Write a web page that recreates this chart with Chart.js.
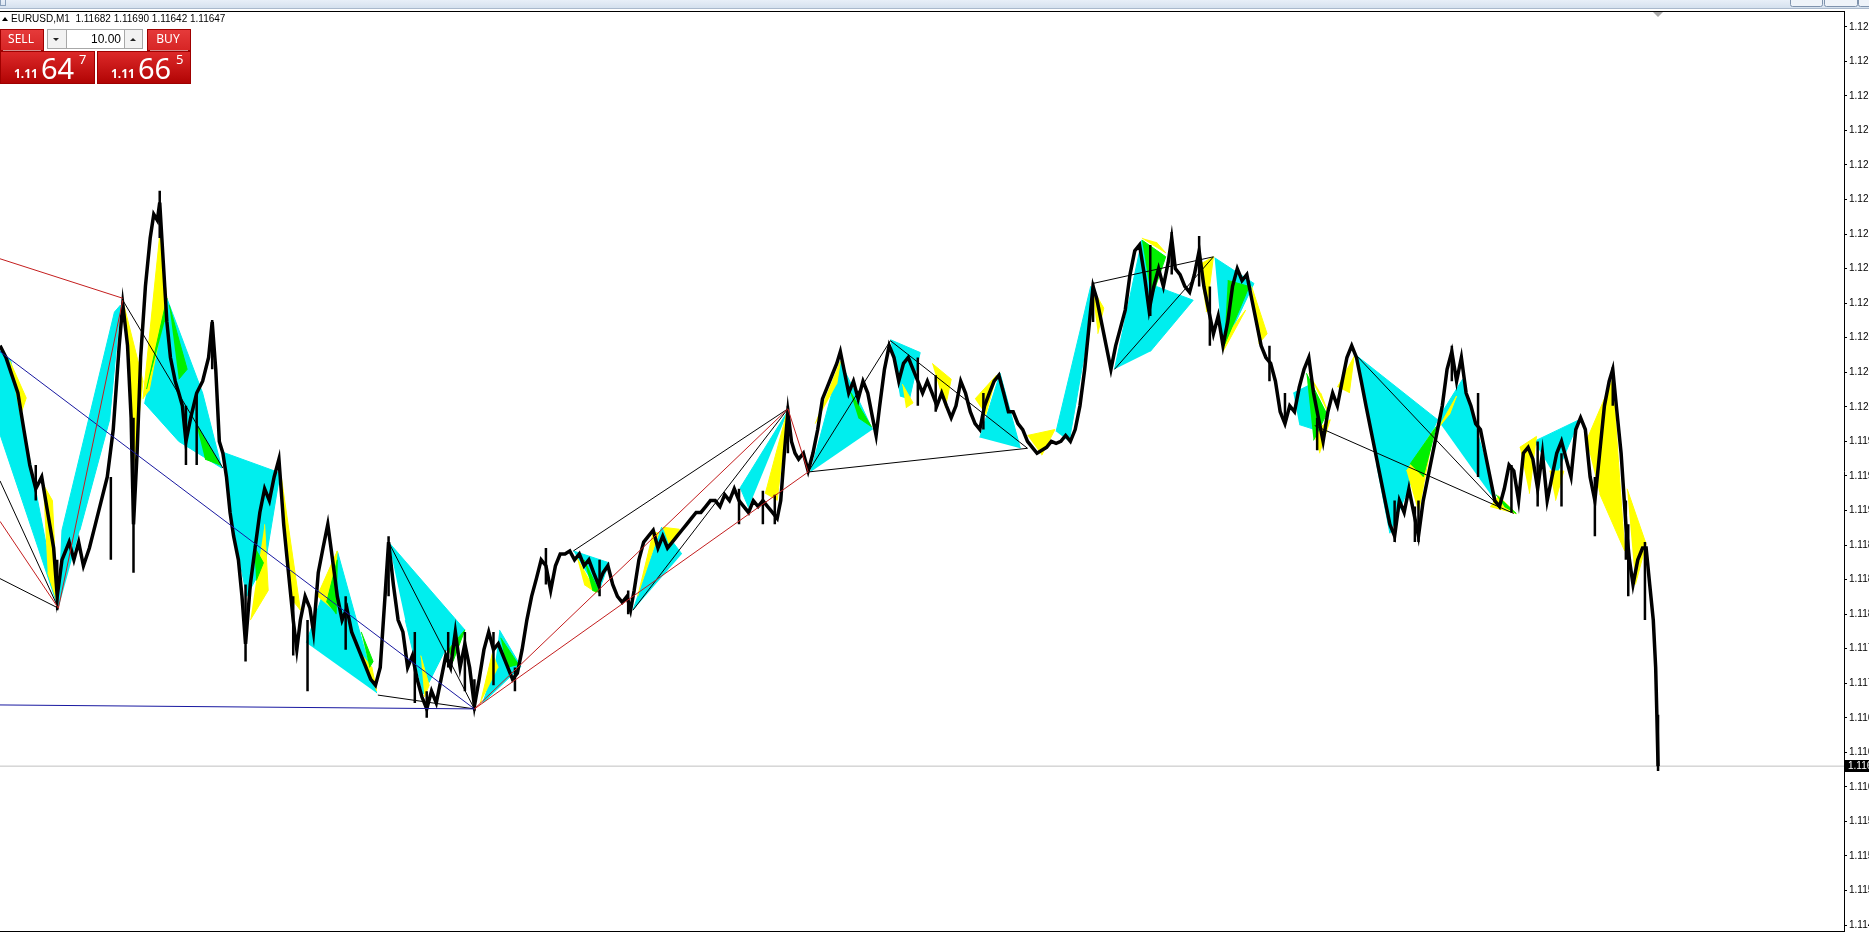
<!DOCTYPE html>
<html>
<head>
<meta charset="utf-8">
<title>EURUSD,M1</title>
<script src="https://cdn.jsdelivr.net/npm/chart.js@4.4.1/dist/chart.umd.min.js"></script>
<style>
  html, body { margin: 0; padding: 0; background: #fff; overflow: hidden; }
  canvas { display: block; }
</style>
</head>
<body>
<canvas id="priceChart" width="1869" height="933"></canvas>
<script>
// bar index (time) and close price
const barX = [
  0,5,10,15,20,25,30,35,40,45,
  48,52,58,62,66,70,75,80,85,90,
  95,100,103,107,110,112,115,118,122,126,
  129,132,134,137,140,143,147,150,153,156,
  160,165,170,175,178,181,184,187,190,193,
  196,200,203,206,210,214,218,222,226,230,
  234,238,242,246,249,252,256,260,263,267,
  271,275,279,283,287,291,295,299,303,307,
  311,315,319,323,326,330,334,338,342,346,
  350,354,358,362,366,370,374,378,382,386,
  390,394,398,402,406,410,414,418,422,426,
  430,434,438,442,446,450,454,458,462,466,
  470,474,478,482,486,490,494,498,502,506,
  510,514,518,522,526,529,532,536,540,544,
  548,552,556,560,564,568,572,576,580,584,
  588,592,596,600,604,608,612,616,620,624,
  628,632,636,640,644,648,652,655,658,661,
  664,667,670,674,678,682,686,690,694,698,
  702,705,708,712,716,720,724,728,732,735,
  738,742,746,750,754,758,762,766,770,774,
  778,782,786,790,794,798,802,806,810,814,
  818,822,826,830,834,838,842,846,850,854,
  858,862,866,870,874,878,882,886,890,894,
  898,902,906,910,914,917,920,924,928,932,
  936,940,944,948,952,956,960,964,968,972,
  976,980,983,986,990,994,998,1002,1006,1010,
  1014,1018,1022,1026,1030,1034,1038,1042,1046,1050,
  1054,1058,1062,1066,1070,1074,1078,1082,1086,1090,
  1094,1098,1102,1106,1110,1114,1118,1122,1126,1130,
  1134,1138,1142,1146,1150,1154,1158,1162,1166,1170,
  1174,1178,1182,1186,1190,1194,1198,1202,1206,1210,
  1214,1218,1222,1226,1230,1234,1238,1242,1246,1250,
  1254,1258,1262,1266,1270,1274,1278,1282,1286,1290,
  1294,1298,1302,1306,1310,1314,1318,1322,1326,1330,
  1334,1338,1342,1346,1350,1353,1356,1360,1364,1367,
  1370,1374,1378,1381,1384,1387,1389,1390,1391
];
const barClose = [
  1.12073,1.12061,1.12043,1.12025,1.11988,1.11952,1.11928,1.11940,1.11904,1.11868,
  1.11819,1.11856,1.11874,1.11856,1.11874,1.11850,1.11868,1.11892,1.11916,1.11940,
  1.11988,1.12073,1.12115,1.12073,1.12000,1.11892,1.11964,1.12061,1.12133,1.12182,
  1.12206,1.12200,1.12218,1.12157,1.12097,1.12061,1.12037,1.12025,1.12012,1.11976,
  1.12000,1.12025,1.12037,1.12061,1.12097,1.12049,1.11976,1.11964,1.11940,1.11904,
  1.11880,1.11856,1.11819,1.11771,1.11831,1.11868,1.11904,1.11928,1.11916,1.11940,
  1.11958,1.11892,1.11843,1.11795,1.11765,1.11795,1.11819,1.11807,1.11783,1.11843,
  1.11868,1.11892,1.11856,1.11819,1.11795,1.11807,1.11783,1.11771,1.11759,1.11747,
  1.11735,1.11729,1.11747,1.11819,1.11874,1.11831,1.11795,1.11783,1.11747,1.11759,
  1.11735,1.11717,1.11705,1.11723,1.11711,1.11735,1.11759,1.11747,1.11783,1.11747,
  1.11771,1.11747,1.11708,1.11735,1.11765,1.11783,1.11765,1.11771,1.11759,1.11747,
  1.11735,1.11741,1.11765,1.11795,1.11819,1.11837,1.11856,1.11850,1.11825,1.11850,
  1.11862,1.11862,1.11865,1.11856,1.11862,1.11850,1.11856,1.11843,1.11831,1.11843,
  1.11850,1.11831,1.11819,1.11813,1.11819,1.11805,1.11825,1.11856,1.11874,1.11880,
  1.11886,1.11868,1.11880,1.11868,1.11874,1.11880,1.11886,1.11892,1.11898,1.11904,
  1.11904,1.11910,1.11916,1.11916,1.11910,1.11922,1.11916,1.11928,1.11916,1.11910,
  1.11904,1.11916,1.11910,1.11916,1.11910,1.11904,1.11898,1.11916,1.11964,1.12006,
  1.11976,1.11964,1.11958,1.11964,1.11946,1.11964,1.11988,1.12019,1.12031,1.12043,
  1.12055,1.12067,1.12049,1.12025,1.12037,1.12019,1.12037,1.12025,1.12000,1.11982,
  1.12012,1.12049,1.12073,1.12061,1.12037,1.12055,1.12061,1.12049,1.12037,1.12025,
  1.12037,1.12025,1.12012,1.12025,1.12012,1.12000,1.12012,1.12037,1.12025,1.12006,
  1.11994,1.11988,1.12012,1.12025,1.12037,1.12043,1.12025,1.12006,1.12006,1.11994,
  1.11988,1.11976,1.11970,1.11964,1.11967,1.11970,1.11976,1.11974,1.11976,1.11982,
  1.11976,1.11988,1.12012,1.12049,1.12097,1.12133,1.12121,1.12097,1.12073,1.12049,
  1.12073,1.12091,1.12109,1.12145,1.12169,1.12175,1.12145,1.12109,1.12133,1.12151,
  1.12133,1.12157,1.12182,1.12151,1.12145,1.12133,1.12127,1.12145,1.12169,1.12133,
  1.12109,1.12085,1.12103,1.12073,1.12097,1.12133,1.12151,1.12139,1.12145,1.12121,
  1.12097,1.12073,1.12061,1.12055,1.12037,1.12006,1.11994,1.12012,1.12006,1.12031,
  1.12049,1.12061,1.12025,1.12000,1.11976,1.12006,1.12025,1.12012,1.12037,1.12061,
  1.12073,1.12061,1.12037,1.12012,1.11988,1.11964,1.11940,1.11916,1.11892,1.11880,
  1.11916,1.11904,1.11928,1.11904,1.11880,1.11916,1.11940,1.11964,1.11988,1.12012,
  1.12049,1.12067,1.12037,1.12061,1.12025,1.12012,1.11994,1.11988,1.11964,1.11940,
  1.11916,1.11910,1.11928,1.11952,1.11946,1.11916,1.11964,1.11970,1.11958,1.11928,
  1.11964,1.11916,1.11940,1.11964,1.11976,1.11958,1.11940,1.11988,1.12000,1.11988,
  1.11940,1.11916,1.11964,1.12012,1.12037,1.12049,1.12012,1.11964,1.11892,1.11856,
  1.11831,1.11856,1.11868,1.11868,1.11831,1.11795,1.11747,1.11699,1.11647
];

// bar ranges (low/high) that stick out of the close line
const spikeX = [
  30, 48, 93, 112, 134, 156, 165, 178, 206, 246,
  258, 290, 326, 348, 358, 376, 390, 398, 414, 432,
  458, 503, 527, 620, 640, 650, 661, 770, 785, 825,
  917, 965, 983, 1006, 1015, 1065, 1078, 1105, 1170, 1187,
  1190, 1218, 1240, 1268, 1290, 1310, 1338, 1353, 1364, 1366,
  1380, 1391
];
const spikeLow = [
  1.11916, 1.11805, 1.11856, 1.11843, 1.12182, 1.11952, 1.11952, 1.12049, 1.11753, 1.11759,
  1.11723, 1.11765, 1.11819, 1.11711, 1.11696, 1.11747, 1.11723, 1.11703, 1.11729, 1.11723,
  1.11831, 1.11819, 1.11801, 1.11892, 1.11892, 1.11892, 1.11964, 1.12012, 1.12006, 1.11988,
  1.12097, 1.12103, 1.12145, 1.12133, 1.12073, 1.12037, 1.11994, 1.11967, 1.11874, 1.11874,
  1.11874, 1.12037, 1.11940, 1.11904, 1.11910, 1.11910, 1.11880, 1.12012, 1.11856, 1.11819,
  1.11795, 1.11642
];
const spikeHigh = [
  1.11952, 1.11856, 1.11940, 1.12000, 1.12230, 1.12012, 1.12025, 1.12099, 1.11831, 1.11819,
  1.11795, 1.11819, 1.11880, 1.11783, 1.11723, 1.11783, 1.11783, 1.11735, 1.11783, 1.11747,
  1.11868, 1.11856, 1.11825, 1.11928, 1.11926, 1.11922, 1.12012, 1.12061, 1.12043, 1.12025,
  1.12137, 1.12175, 1.12188, 1.12184, 1.12133, 1.12073, 1.12025, 1.12000, 1.11916, 1.11910,
  1.11916, 1.12073, 1.12025, 1.11952, 1.11976, 1.11964, 1.11940, 1.12051, 1.11916, 1.11892,
  1.11874, 1.11699
];

const tickValues = [
  1.11486, 1.11521, 1.11556, 1.11591, 1.11626, 1.11661, 1.11696, 1.11731, 1.11766,
  1.11801, 1.11836, 1.11871, 1.11906, 1.11941, 1.11976, 1.12011, 1.12046, 1.12081,
  1.12116, 1.12151, 1.12186, 1.12221, 1.12256, 1.12291, 1.12326, 1.12361, 1.12396
];

const symbolName = "EURUSD,M1";
const ohlc = [1.11682, 1.11690, 1.11642, 1.11647];
const bidPrice = 1.11647;
const askPrice = 1.11665;
const lotSize = "10.00";

// pattern triangles (bar, price)
const cyanShapes = [
  [[0,1.12068],[9,1.12058],[49,1.11807],[0,1.11983]],
  [[49,1.11807],[52,1.11886],[96,1.12107],[101,1.12114],[92,1.11998],[67,1.11886]],
  [[140,1.12121],[170,1.12025],[186,1.11949],[150,1.11976],[121,1.12015]],
  [[187,1.11965],[235,1.11944],[223,1.11856],[207,1.11819],[195,1.11892]],
  [[257,1.11772],[283,1.11865],[316,1.11721]],
  [[326,1.11874],[390,1.11785],[372,1.11761],[355,1.11720],[340,1.11795]],
  [[419,1.11785],[437,1.11748],[405,1.11711],[415,1.11747]],
  [[481,1.11865],[511,1.11853],[502,1.11823]],
  [[531,1.11805],[555,1.11889],[572,1.11862]],
  [[662,1.12009],[621,1.11929],[628,1.11909]],
  [[680,1.11945],[705,1.12057],[732,1.11988]],
  [[747,1.12079],[772,1.12066],[763,1.12019],[755,1.12022]],
  [[822,1.11980],[839,1.12045],[856,1.11969]],
  [[886,1.11986],[915,1.12133],[918,1.12121],[897,1.11976]],
  [[935,1.12049],[958,1.12180],[970,1.12133],[1001,1.12119],[965,1.12067]],
  [[1019,1.12162],[1052,1.12136],[1026,1.12070]],
  [[1085,1.12025],[1100,1.12034],[1103,1.11988],[1090,1.11993]],
  [[1138,1.12063],[1206,1.11998],[1166,1.11883],[1155,1.11952]],
  [[1206,1.11998],[1227,1.12039],[1256,1.11913]],
  [[1287,1.11976],[1325,1.11998],[1305,1.11940]]
];
const yellowShapes = [
  [[8,1.12058],[22,1.12020],[17,1.12002]],
  [[36,1.11933],[44,1.11916],[48,1.11813],[40,1.11843]],
  [[104,1.12114],[120,1.12037],[112,1.11952]],
  [[120,1.12019],[134,1.12185],[140,1.12121],[125,1.12027]],
  [[222,1.11892],[225,1.11825],[210,1.11795]],
  [[236,1.11940],[252,1.11805],[243,1.11819]],
  [[266,1.11819],[283,1.11865],[278,1.11807]],
  [[300,1.11765],[312,1.11747],[316,1.11723]],
  [[353,1.11759],[360,1.11729],[356,1.11717]],
  [[403,1.11711],[413,1.11761],[418,1.11747]],
  [[484,1.11858],[500,1.11823],[490,1.11831]],
  [[535,1.11819],[548,1.11884],[553,1.11883]],
  [[556,1.11889],[570,1.11887],[562,1.11869]],
  [[642,1.11923],[661,1.12009],[652,1.11916]],
  [[684,1.11994],[705,1.12057],[702,1.12034]],
  [[782,1.12055],[798,1.12039],[793,1.12010]],
  [[757,1.12034],[766,1.12015],[760,1.12010]],
  [[818,1.12019],[836,1.12043],[827,1.12003]],
  [[862,1.11982],[885,1.11988],[874,1.11962]],
  [[916,1.12132],[926,1.12111],[921,1.12085]],
  [[958,1.12182],[978,1.12167],[970,1.12178]],
  [[1006,1.12155],[1018,1.12163],[1012,1.12107]],
  [[1030,1.12085],[1045,1.12109],[1026,1.12067]],
  [[1050,1.12133],[1063,1.12085],[1056,1.12075]],
  [[1098,1.12045],[1114,1.12006],[1108,1.12025]],
  [[1122,1.12031],[1136,1.12062],[1132,1.12025]],
  [[1102,1.11985],[1116,1.11998],[1107,1.11964]],
  [[1180,1.11946],[1203,1.11988],[1190,1.11904]],
  [[1206,1.11988],[1222,1.12022],[1216,1.12003]],
  [[1250,1.11910],[1272,1.11903],[1257,1.11921]],
  [[1275,1.11970],[1289,1.11981],[1283,1.11923]],
  [[1300,1.11946],[1312,1.11946],[1305,1.11916]],
  [[1331,1.11977],[1353,1.12039],[1363,1.11865],[1342,1.11923]],
  [[1365,1.11928],[1381,1.11872],[1372,1.11831]]
];
const greenShapes = [
  [[123,1.12029],[140,1.12121],[138,1.12097]],
  [[142,1.12114],[157,1.12049],[150,1.12039]],
  [[165,1.11992],[185,1.11952],[172,1.11958]],
  [[213,1.11870],[221,1.11853],[215,1.11835]],
  [[274,1.11813],[283,1.11856],[282,1.11801]],
  [[303,1.11783],[313,1.11753],[310,1.11747]],
  [[376,1.11765],[390,1.11785],[380,1.11753]],
  [[420,1.11777],[435,1.11750],[425,1.11747]],
  [[490,1.11856],[503,1.11823],[497,1.11825]],
  [[713,1.12027],[731,1.11991],[720,1.12000]],
  [[958,1.12180],[978,1.12163],[966,1.12121]],
  [[1030,1.12139],[1048,1.12133],[1027,1.12073]],
  [[1096,1.12045],[1113,1.12004],[1102,1.11977]],
  [[1183,1.11953],[1205,1.11991],[1194,1.11940]],
  [[1255,1.11922],[1272,1.11903],[1262,1.11910]]
];

// trend lines: x1, price1, x2, price2
const redLines = [
  [0,1.12161,103,1.12121],
  [0,1.11895,49,1.11807],
  [49,1.11807,103,1.12119],
  [398,1.11705,661,1.12009],
  [398,1.11705,678,1.11945],
  [661,1.12009,678,1.11945]
];
const blueLines = [
  [0,1.12067,398,1.11705],
  [0,1.11709,398,1.11705]
];
const blackLines = [
  [0,1.11936,49,1.11807],
  [0,1.11837,49,1.11807],
  [103,1.12119,187,1.11949],
  [326,1.11874,398,1.11705],
  [317,1.11719,398,1.11705],
  [481,1.11865,661,1.12009],
  [531,1.11805,661,1.12009],
  [678,1.11945,862,1.11969],
  [678,1.11945,747,1.12078],
  [747,1.12078,862,1.11969],
  [917,1.12136,1018,1.12163],
  [935,1.12049,1018,1.12163],
  [1138,1.12063,1256,1.11912],
  [1103,1.11992,1270,1.11903]
];

const lastBar = barX[barX.length - 1];
const lastClose = barClose[barClose.length - 1];

function shapeSets(list, color, order) {
  return list.map(pts => ({
    data: pts.map(([x, y]) => ({x, y})),
    fill: 'shape',
    backgroundColor: color,
    borderColor: color,
    borderWidth: 1,
    order: order
  }));
}

function segmentSet(list, color, width, order) {
  const data = [];
  list.forEach(([x1, y1, x2, y2]) => {
    data.push({x: x1, y: y1}, {x: x2, y: y2}, {x: x2, y: null});
  });
  return {data, borderColor: color, borderWidth: width, fill: false, order};
}

const spikeData = [];
spikeX.forEach((x, i) => {
  spikeData.push({x, y: spikeLow[i]}, {x, y: spikeHigh[i]}, {x, y: null});
});

const datasets = [
  {data: [{x: 0, y: lastClose}, {x: 1547, y: lastClose}], borderColor: '#c0c0c0', borderWidth: 1, order: 6},
  ...shapeSets(cyanShapes, '#00eeee', 5),
  ...shapeSets(yellowShapes, '#ffff00', 4),
  ...shapeSets(greenShapes, '#00f000', 3),
  {data: barX.map((x, i) => ({x, y: barClose[i]})), borderColor: '#000', borderWidth: 3.5, order: 2},
  {data: spikeData, borderColor: '#000', borderWidth: 2.5, order: 2},
  segmentSet(redLines, '#c41e1e', 1, 1),
  segmentSet(blueLines, '#1818a0', 1, 1),
  segmentSet(blackLines, '#000', 1, 1)
];

function splitPrice(p) {
  const s = p.toFixed(5);
  return [s.slice(0, 4), s.slice(4, 6), s.slice(6)];
}

function redBox(ctx, x, y, w, h, top, bottom) {
  const g = ctx.createLinearGradient(0, y, 0, y + h);
  g.addColorStop(0, top);
  g.addColorStop(1, bottom);
  ctx.fillStyle = g;
  ctx.fillRect(x, y, w, h);
  ctx.strokeStyle = '#9e0000';
  ctx.lineWidth = 1;
  ctx.strokeRect(x + 0.5, y + 0.5, w - 1, h - 1);
}

function tri(ctx, pts, color) {
  ctx.fillStyle = color;
  ctx.beginPath();
  ctx.moveTo(pts[0], pts[1]);
  ctx.lineTo(pts[2], pts[3]);
  ctx.lineTo(pts[4], pts[5]);
  ctx.closePath();
  ctx.fill();
}

const terminalChrome = {
  id: 'terminalChrome',
  beforeDraw(chart) {
    const ctx = chart.ctx;
    ctx.save();
    ctx.fillStyle = '#fff';
    ctx.fillRect(0, 0, chart.width, chart.height);
    ctx.restore();
  },
  afterDraw(chart) {
    const {ctx, chartArea} = chart;
    const yScale = chart.scales.y;
    const xScale = chart.scales.x;
    ctx.save();

    // window strip at the top
    const strip = ctx.createLinearGradient(0, 0, 0, 9);
    strip.addColorStop(0, '#e8eff8');
    strip.addColorStop(1, '#d3dfed');
    ctx.fillStyle = strip;
    ctx.fillRect(0, 0, chart.width, 8);
    ctx.fillStyle = '#aab9cc';
    ctx.fillRect(0, 8, chart.width, 1);
    ctx.fillStyle = '#fff';
    ctx.fillRect(0, 9, chart.width, 2);
    ctx.strokeStyle = '#7f93ad';
    ctx.fillStyle = '#eef3f9';
    [[1790, 32], [1824, 33], [1858, 14]].forEach(([bx, bw]) => {
      ctx.beginPath();
      ctx.roundRect(bx + 0.5, -4.5, bw, 11, 2);
      ctx.fill();
      ctx.stroke();
    });
    ctx.strokeStyle = '#8aa0bb';
    ctx.strokeRect(0.5, -3.5, 5, 9);

    // chart frame
    ctx.fillStyle = '#000';
    ctx.fillRect(0, chartArea.top, chartArea.right + 1, 1);
    ctx.fillRect(0, chartArea.bottom, chartArea.right + 1, 1);

    // shift marker
    const sx = Math.round(xScale.getPixelForValue(lastBar));
    tri(ctx, [sx - 5, chartArea.top + 1, sx + 5, chartArea.top + 1, sx, chartArea.top + 6], '#a8a8a8');

    // current price label
    const py = Math.round(yScale.getPixelForValue(lastClose));
    ctx.fillStyle = '#000';
    ctx.fillRect(chartArea.right + 1, py - 6, chart.width - chartArea.right, 12);
    ctx.fillStyle = '#fff';
    ctx.font = '10px "Liberation Sans", Arial, sans-serif';
    ctx.textBaseline = 'middle';
    ctx.textAlign = 'left';
    ctx.fillText(lastClose.toFixed(5), chartArea.right + 4, py + 0.5);

    // header
    tri(ctx, [2, 21, 8, 21, 5, 17], '#000');
    ctx.fillStyle = '#000';
    ctx.font = '10px "Liberation Sans", Arial, sans-serif';
    ctx.fillText(symbolName + '  ' + ohlc.map(v => v.toFixed(5)).join(' '), 11, 19.5);

    // one-click trading panel
    redBox(ctx, 0, 29, 44, 22, '#e63b3b', '#d62424');
    redBox(ctx, 147, 29, 44, 22, '#e63b3b', '#d62424');
    ctx.fillStyle = 'rgba(255,255,255,0.55)';
    ctx.fillRect(3, 50, 38, 1);
    ctx.fillRect(150, 50, 38, 1);
    ctx.fillStyle = '#fff';
    ctx.font = '12px "Noto Sans", sans-serif';
    ctx.textAlign = 'center';
    ctx.fillText('SELL', 21, 40);
    ctx.fillText('BUY', 168, 40);

    ctx.fillStyle = '#f2f2f2';
    ctx.fillRect(47, 29, 96, 20);
    ctx.fillStyle = '#fff';
    ctx.fillRect(66, 30, 58, 18);
    ctx.strokeStyle = '#a8a8a8';
    ctx.strokeRect(47.5, 29.5, 95, 19);
    ctx.beginPath();
    ctx.moveTo(66.5, 30); ctx.lineTo(66.5, 48);
    ctx.moveTo(124.5, 30); ctx.lineTo(124.5, 48);
    ctx.stroke();
    tri(ctx, [53, 38, 59, 38, 56, 41], '#222');
    tri(ctx, [130, 41, 136, 41, 133, 38], '#222');
    ctx.fillStyle = '#000';
    ctx.textAlign = 'right';
    ctx.font = '12px "Liberation Sans", Arial, sans-serif';
    ctx.fillText(lotSize, 121, 39.5);

    redBox(ctx, 0, 51, 95, 33, '#de2a2a', '#b00303');
    redBox(ctx, 97, 51, 94, 33, '#de2a2a', '#b00303');
    ctx.fillStyle = '#fff';
    ctx.textAlign = 'left';
    ctx.textBaseline = 'alphabetic';
    [[bidPrice, 14], [askPrice, 111]].forEach(([p, bx]) => {
      const [big, pips, frac] = splitPrice(p);
      ctx.font = 'bold 12px "Noto Sans", sans-serif';
      ctx.fillText(big, bx, 78);
      ctx.font = '29px "Noto Sans", sans-serif';
      ctx.fillText(pips, bx + 27, 79);
      ctx.font = '13px "Noto Sans", sans-serif';
      ctx.fillText(frac, bx + 65, 64);
    });

    ctx.restore();
  }
};

const ctx = document.getElementById("priceChart").getContext("2d");

const priceChart = new Chart(ctx, {
  type: "line",
  data: { datasets },
  options: {
    responsive: false,
    animation: false,
    events: [],
    layout: { padding: { top: 11, bottom: 2, left: 0, right: 0 } },
    elements: {
      point: { radius: 0 },
      line: { tension: 0, borderJoinStyle: 'miter', borderCapStyle: 'butt' }
    },
    plugins: {
      legend: { display: false },
      tooltip: { enabled: false },
      filler: { propagate: false }
    },
    scales: {
      x: { type: 'linear', min: 0, max: 1547, display: false },
      y: {
        type: 'linear',
        position: 'right',
        min: 1.11480,
        max: 1.12412,
        afterFit(scale) {
          scale.width = 25;
          scale.paddingTop = 0;
          scale.paddingBottom = 0;
        },
        afterBuildTicks(scale) {
          scale.ticks = tickValues.map(v => ({ value: v }));
        },
        grid: { drawOnChartArea: false, color: '#000', tickLength: 3 },
        border: { display: true, color: '#000', width: 1 },
        ticks: {
          autoSkip: false,
          padding: 2,
          color: '#000',
          font: { family: '"Liberation Sans", Arial, sans-serif', size: 10 },
          callback: v => v.toFixed(5)
        }
      }
    }
  },
  plugins: [terminalChrome]
});
</script>
</body>
</html>
